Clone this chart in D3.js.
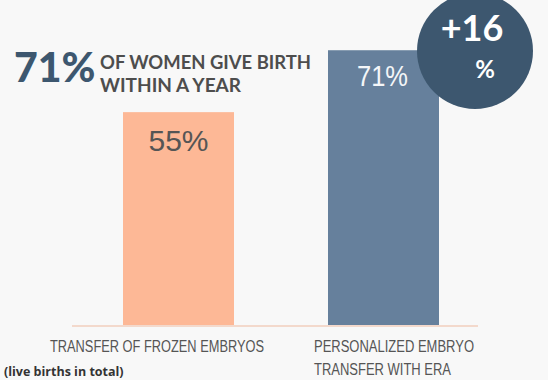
<!DOCTYPE html>
<html>
<head>
<meta charset="utf-8">
<script src="https://cdn.jsdelivr.net/npm/d3@7"></script>
<style>
  body { margin: 0; background: #f8f8f8; }
  svg { display: block; }
</style>
</head>
<body>
<script>
// data
var categories = ["TRANSFER OF FROZEN EMBRYOS", "PERSONALIZED EMBRYO TRANSFER WITH ERA"]
var values = [55, 71]
var barLabels = ["55%", "71%"]
var barColors = ["#fdb896", "#66809c"]
var headline = ["OF WOMEN GIVE BIRTH", "WITHIN A YEAR"]
var diffLabel = ["+16", "%"]

var width = 548
var height = 380
var baseY = 325

var svg = d3.select("body")
  .append("svg")
  .attr("width", width)
  .attr("height", height)

svg.append("rect")
  .attr("width", width)
  .attr("height", height)
  .attr("fill", "#f8f8f8")

var x = d3.scaleBand()
  .domain(categories)
  .range([123, 439])
  .paddingInner(0.4585)
  .paddingOuter(0)

var y = d3.scaleLinear()
  .domain([0, 100])
  .range([baseY, baseY - 387])

// baseline
svg.append("line")
  .attr("x1", 72)
  .attr("x2", 478)
  .attr("y1", baseY + 1)
  .attr("y2", baseY + 1)
  .attr("stroke", "#f3d9cc")
  .attr("stroke-width", 2)

// bars
svg.selectAll(".bar")
  .data(values)
  .enter()
  .append("rect")
  .attr("class", "bar")
  .attr("x", function(d, i) { return x(categories[i]) })
  .attr("y", function(d) { return y(d) })
  .attr("width", x.bandwidth())
  .attr("height", function(d) { return y(0) - y(d) })
  .attr("fill", function(d, i) { return barColors[i] })

// value labels inside bars
svg.selectAll(".val")
  .data(values)
  .enter()
  .append("text")
  .attr("class", "val")
  .attr("x", function(d, i) { return x(categories[i]) + x.bandwidth() / 2 + (i == 0 ? 0 : -1) })
  .attr("y", function(d, i) { return y(d) + (i == 0 ? 39 : 36) })
  .attr("text-anchor", "middle")
  .attr("font-family", "Liberation Sans, Arial, sans-serif")
  .attr("font-size", function(d, i) { return i == 0 ? 30 : 29 })
  .attr("textLength", function(d, i) { return i == 0 ? null : 51 })
  .attr("lengthAdjust", "spacingAndGlyphs")
  .attr("fill", function(d, i) { return i == 0 ? "#555555" : "#f4f6f8" })
  .text(function(d, i) { return barLabels[i] })

// circle annotation
svg.append("circle")
  .attr("cx", 475)
  .attr("cy", 51)
  .attr("r", 58)
  .attr("fill", "#3d576f")

svg.append("text")
  .attr("x", 472)
  .attr("y", 41)
  .attr("text-anchor", "middle")
  .attr("font-family", "Lato, sans-serif")
  .attr("font-weight", "bold")
  .attr("font-size", 36)
  .attr("fill", "#ffffff")
  .text(diffLabel[0])

svg.append("text")
  .attr("x", 485)
  .attr("y", 78)
  .attr("text-anchor", "middle")
  .attr("font-family", "Lato, sans-serif")
  .attr("font-weight", "bold")
  .attr("font-size", 24)
  .attr("fill", "#ffffff")
  .text(diffLabel[1])

// headline
svg.append("text")
  .attr("x", 14)
  .attr("y", 82)
  .attr("font-family", "Lato, sans-serif")
  .attr("font-weight", "900")
  .attr("font-size", 41)
  .attr("fill", "#3d576f")
  .text(barLabels[1])

var headLen = [211, 141]
svg.selectAll(".head")
  .data(headline)
  .enter()
  .append("text")
  .attr("class", "head")
  .attr("x", 100)
  .attr("y", function(d, i) { return 69 + i * 23 })
  .attr("font-family", "Lato, sans-serif")
  .attr("font-weight", "bold")
  .attr("font-size", 19.5)
  .attr("textLength", function(d, i) { return headLen[i] })
  .attr("lengthAdjust", "spacingAndGlyphs")
  .attr("fill", "#4d4d4d")
  .text(function(d) { return d })

// category labels
svg.append("text")
  .attr("x", 50)
  .attr("y", 352)
  .attr("font-family", "Liberation Sans, sans-serif")
  .attr("font-size", 16)
  .attr("textLength", 214)
  .attr("lengthAdjust", "spacingAndGlyphs")
  .attr("fill", "#555555")
  .text(categories[0])

var cat2 = ["PERSONALIZED EMBRYO", "TRANSFER WITH ERA"]
var cat2Len = [160, 137]
svg.selectAll(".cat2")
  .data(cat2)
  .enter()
  .append("text")
  .attr("class", "cat2")
  .attr("x", 314)
  .attr("y", function(d, i) { return 352 + i * 23 })
  .attr("font-family", "Liberation Sans, sans-serif")
  .attr("font-size", 16)
  .attr("textLength", function(d, i) { return cat2Len[i] })
  .attr("lengthAdjust", "spacingAndGlyphs")
  .attr("fill", "#555555")
  .text(function(d) { return d })

svg.append("text")
  .attr("x", 4)
  .attr("y", 376)
  .attr("font-family", "Open Sans, sans-serif")
  .attr("font-weight", "bold")
  .attr("font-size", 12.5)
  .attr("fill", "#333333")
  .text("(live births in total)")
</script>
</body>
</html>
